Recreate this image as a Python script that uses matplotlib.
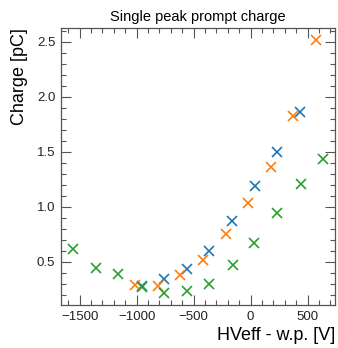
import matplotlib
matplotlib.use("Agg")
import matplotlib.pyplot as plt
from matplotlib.ticker import MultipleLocator

plt.rcParams['font.family'] = ['Liberation Sans', 'DejaVu Sans']

blue_x = [432, 233, 38, -161, -363, -556, -758, -951]
blue_y = [1.86, 1.50, 1.19, 0.87, 0.60, 0.43, 0.34, 0.28]

orange_x = [573, 374, 181, -21, -217, -416, -618, -813, -1015]
orange_y = [2.52, 1.82, 1.36, 1.03, 0.75, 0.51, 0.38, 0.28, 0.29]

green_x = [632, 439, 233, 32, -158, -363, -559, -760, -956, -1161, -1357, -1556]
green_y = [1.43, 1.21, 0.94, 0.67, 0.47, 0.30, 0.23, 0.21, 0.27, 0.39, 0.44, 0.61]

fig = plt.figure(figsize=(3.38, 3.48), dpi=100)
ax = fig.add_axes([0.180, 0.1236, 0.811, 0.796])

ms = 7
mew = 1.2
ax.plot(blue_x, blue_y, 'x', color='#1f77b4', ms=ms, mew=mew)
ax.plot(orange_x, orange_y, 'x', color='#ff7f0e', ms=ms, mew=mew)
ax.plot(green_x, green_y, 'x', color='#2ca02c', ms=ms, mew=mew)

ax.set_xlim(-1665, 740)
ax.set_ylim(0.105, 2.625)
ax.xaxis.set_major_locator(MultipleLocator(500))
ax.xaxis.set_minor_locator(MultipleLocator(100))
ax.yaxis.set_major_locator(MultipleLocator(0.5))
ax.yaxis.set_minor_locator(MultipleLocator(0.1))
ax.tick_params(which='both', direction='in', top=True, right=True, color='#555555', labelsize=9.5, labelcolor='#222222')
ax.tick_params(which='major', length=7, width=0.8, pad=4)
ax.tick_params(which='minor', length=3.5, width=0.8)
for s in ax.spines.values():
    s.set_color('#555555')
    s.set_linewidth(0.9)

ax.set_title('Single peak prompt charge', fontsize=10.5, pad=5)
ax.set_ylabel('Charge [pC]', fontsize=13, loc='top', labelpad=6)
ax.set_xlabel('HVeff - w.p. [V]', fontsize=13, loc='right', labelpad=3)

fig.savefig('out.png', dpi=100)
